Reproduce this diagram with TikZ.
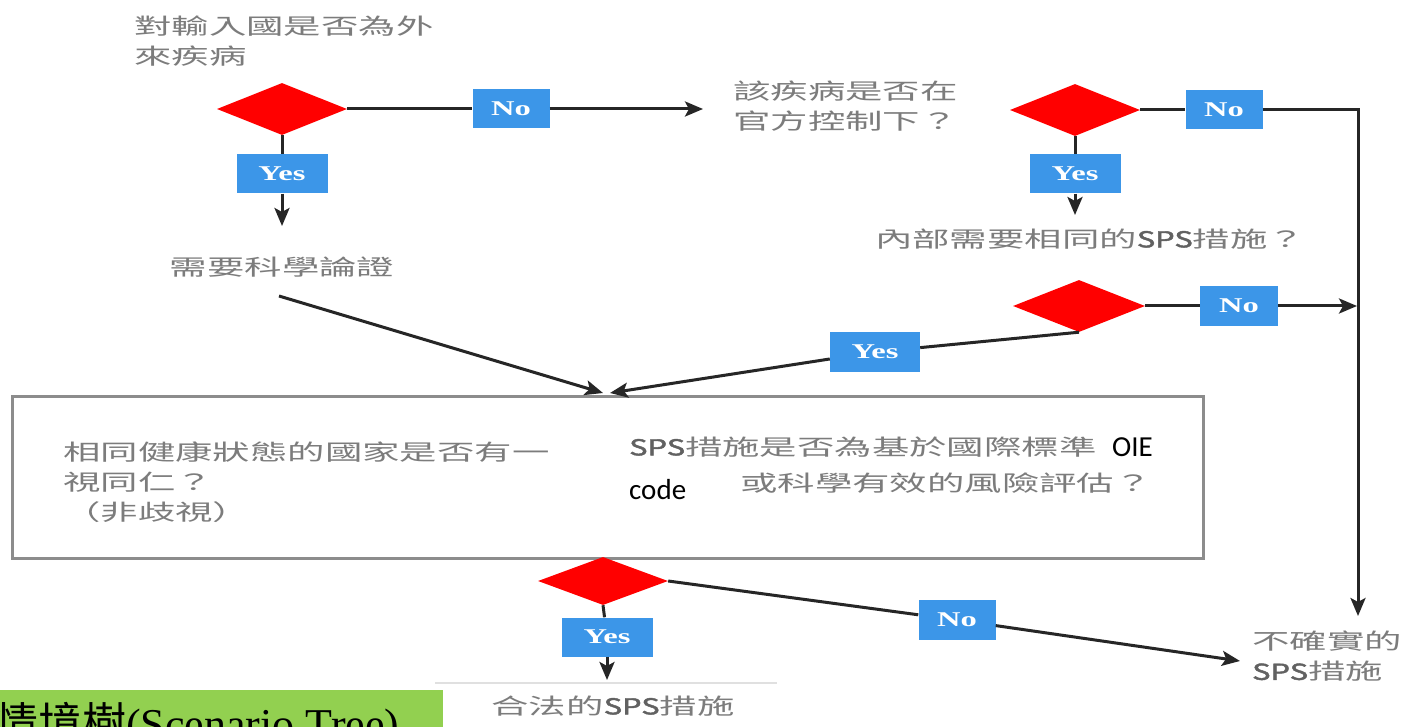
\documentclass[tikz,border=0pt]{standalone}
\usepackage{fontspec}
\usetikzlibrary{shapes.geometric,arrows.meta}
\setmainfont{Liberation Serif}
\newfontfamily\cjk[FakeStretch=1.7]{Noto Sans CJK TC}
\newfontfamily\cjkbold[FakeStretch=1.4,FakeBold=2]{Noto Sans CJK TC}
\newfontfamily\cjkplain{Noto Sans CJK TC}
\newfontfamily\yesno[FakeStretch=1.55]{Liberation Serif}
\newfontfamily\calib{Carlito}
\newcommand\spsword{{\cjkbold\color{black!62}SPS}}
\definecolor{lbl}{HTML}{7C7C7C}
\definecolor{tagblue}{HTML}{3C96E8}
\definecolor{boxgray}{HTML}{8C8C8C}
\definecolor{leafgreen}{HTML}{92D050}
\tikzset{
  decision/.style={diamond, fill=red, draw=none, inner sep=0pt,
    minimum width=130pt, minimum height=52pt},
  tag/.style={fill=tagblue, text=white, font=\yesno\bfseries\fontsize{21}{21}\selectfont,
    inner sep=0pt, minimum width=91pt, minimum height=39pt},
  lbltext/.style={text=lbl, font=\cjk\fontsize{22}{30}\selectfont, inner sep=0pt, align=left},
  addtext/.style={text=black, font=\calib\fontsize{29}{29}\selectfont, inner sep=0pt},
  conn/.style={line width=3pt, black!85},
  arr/.style={conn, -{Stealth[length=18pt,width=15pt,inset=4pt]}}
}
\begin{document}
\begin{tikzpicture}[x=1pt,y=-1pt]
\fill[white] (0,0) rectangle (1403,727);
\useasboundingbox (0,0) rectangle (1403,727);
\clip (0,0) rectangle (1403,727);

% first question: exotic disease?
\node[lbltext, anchor=north west] (q1) at (134,16) {對輸入國是否為外\\來疾病};
\node[decision] (d1) at (282,109) {};
\node[tag, minimum width=77pt] (no1) at (511,109) {No};
\coordinate (a1) at (703,109);
\node[tag] (yes1) at (282,174) {Yes};
\coordinate (a2) at (282,226);
\node[lbltext] (sci) at (282,267) {需要科學論證};
\coordinate (s1) at (279,296);

% second question: official control?
\node[lbltext, anchor=north west] (q2) at (733,81) {該疾病是否在\\官方控制下？};
\node[decision] (d2) at (1075,110) {};
\node[tag, minimum width=77pt] (no2) at (1224,110) {No};
\coordinate (c2) at (1358,110);
\coordinate (b2) at (1358,616);
\node[tag] (yes2) at (1075,174) {Yes};
\coordinate (a3) at (1075,215);
\node[lbltext] (q3) at (1090,239) {內部需要相同的\spsword 措施？};

% third question: same internal measures?
\node[decision, minimum width=132pt] (d3) at (1079,306) {};
\node[tag, minimum width=78pt, minimum height=40pt] (no3) at (1239,306) {No};
\coordinate (a4) at (1357,306);
\node[tag, minimum width=90pt, minimum height=40pt] (yes3) at (875,352) {Yes};
\coordinate (m1) at (603,393);
\coordinate (m2) at (610,393);

% criteria box
\node[draw=boxgray, line width=2.5pt, minimum width=1191pt, minimum height=162pt,
      inner sep=0pt, anchor=north west] (crit) at (11,395) {};
\node[lbltext, anchor=north west] (nd) at (63,442) {相同健康狀態的國家是否有一\\視同仁？\\（非歧視）};
\node[lbltext, anchor=west] (std1) at (629,447) {\spsword 措施是否為基於國際標準};
\node[lbltext, anchor=west] (std2) at (740,483) {或科學有效的風險評估？};
\node[addtext, anchor=west] (oie) at (1112,447) {OIE};
\node[addtext, anchor=west] (code) at (629,490) {code};

% final decision
\node[decision, minimum height=48pt] (d4) at (603,581) {};
\node[tag] (yes4) at (607,637) {Yes};
\coordinate (a5) at (607,680);
\draw[black!12, line width=2pt] (435,683) -- (777,683);
\node[lbltext] (legal) at (613,706) {合法的\spsword 措施};
\node[tag, minimum width=77pt, minimum height=40pt] (no4) at (957,620) {No};
\coordinate (a6) at (1240,661);
\node[lbltext, anchor=north west] (bad) at (1252,631) {不確實的\\\spsword 措施};

% caption strip
\node[fill=leafgreen, anchor=north west, minimum width=443pt, minimum height=50pt,
      inner sep=0pt] (legend) at (0,690) {};
\node[anchor=base west, inner sep=0pt, font=\fontsize{44}{44}\selectfont] (legendtext)
      at (-6,739) {{\cjkplain 情境樹}(Scenario Tree)};

% connectors
\draw[conn] (d1.east) -- (no1);
\draw[arr] (no1) -- (a1);
\draw[conn] (d1.south) -- (yes1);
\draw[arr] (yes1) -- (a2);
\draw[arr] (s1) -- (m1);
\draw[conn] (d2.east) -- (no2);
\draw[arr] (no2) -- (c2) -- (b2);
\draw[conn] (d2.south) -- (yes2);
\draw[arr] (yes2) -- (a3);
\draw[conn] (d3.east) -- (no3);
\draw[arr] (no3) -- (a4);
\draw[conn] (d3.south) -- (yes3);
\draw[arr] (yes3) -- (m2);
\draw[conn] (d4.south) -- (yes4);
\draw[arr] (yes4) -- (a5);
\draw[conn] (d4.east) -- (no4);
\draw[arr] (no4) -- (a6);
\end{tikzpicture}
\end{document}
